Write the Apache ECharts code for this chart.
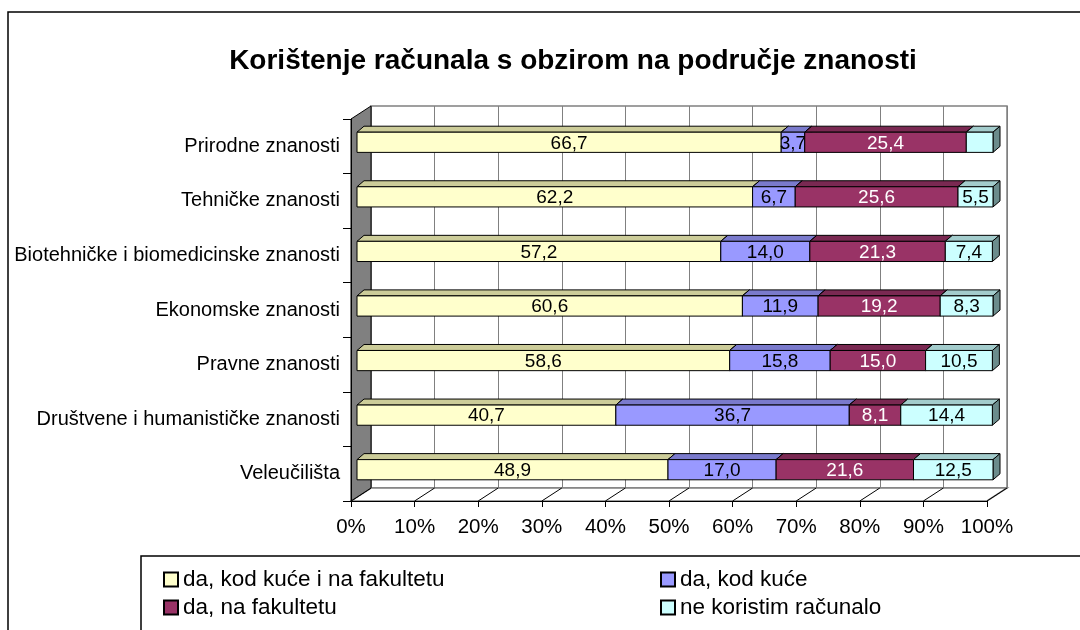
<!DOCTYPE html>
<html>
<head>
<meta charset="utf-8">
<script src="https://cdn.jsdelivr.net/npm/echarts@6/dist/echarts.min.js"></script>
<style>
  html, body { margin: 0; background: #fff; }
  #chart { width: 1080px; height: 630px; }
</style>
</head>
<body>
<div id="chart"></div>
<script>
const categories = [
  'Prirodne znanosti',
  'Tehničke znanosti',
  'Biotehničke i biomedicinske znanosti',
  'Ekonomske znanosti',
  'Pravne znanosti',
  'Društvene i humanističke znanosti',
  'Veleučilišta'
]
const seriesNames = ['da, kod kuće i na fakultetu', 'da, kod kuće', 'da, na fakultetu', 'ne koristim računalo']
const kucaIFakultet = [66.7, 62.2, 57.2, 60.6, 58.6, 40.7, 48.9]
const kuca = [3.7, 6.7, 14.0, 11.9, 15.8, 36.7, 17.0]
const fakultet = [25.4, 25.6, 21.3, 19.2, 15.0, 8.1, 21.6]
const neKoristi = [4.2, 5.5, 7.4, 8.3, 10.5, 14.4, 12.5]
const xTicks = [0, 10, 20, 30, 40, 50, 60, 70, 80, 90, 100]
// label not shown in the original: [series, category]
const hiddenLabels = [[3, 0]]

const values = [kucaIFakultet, kuca, fakultet, neKoristi]
const colors = ['#FFFFCC', '#9999FF', '#993366', '#CCFFFF']
const topColors = ['#CCCC99', '#7A7ACC', '#7A2952', '#A3CCCC']
const sideColors = ['#999973', '#5C5C99', '#5C1F3D', '#6B8C8C']
const labelColors = ['#000', '#000', '#fff', '#000']
const FONT = 'Liberation Sans, Arial, sans-serif'

const DEPTH = [7, -6] // bar depth
const FRONT = [-6, 4] // front plane, from bar front
const BACK = [14, -9] // back wall, from bar front

const fmt = (v) => v.toFixed(1).replace('.', ',')

// cumulative starts per category
const stacked = values.map((arr, si) =>
  arr.map((v, ci) => {
    let start = 0
    for (let k = 0; k < si; k++) start += values[k][ci]
    return [ci, start, start + v, v]
  })
)

function renderFrame(params, api) {
  const xs = xTicks.map((t) => api.coord([t, 0])[0])
  const band = api.size([0, 1])[1]
  const yT = api.coord([0, 0])[1] - band / 2
  const yB = api.coord([0, categories.length - 1])[1] + band / 2
  const xl = xs[0]
  const xr = xs[xs.length - 1]
  const children = []
  // floor
  children.push({
    type: 'polygon',
    shape: { points: [[xl + BACK[0], yB + BACK[1]], [xr + BACK[0], yB + BACK[1]], [xr + FRONT[0], yB + FRONT[1]], [xl + FRONT[0], yB + FRONT[1]]] },
    style: { fill: '#fff', stroke: '#808080', lineWidth: 1.5 }
  })
  xs.forEach((x) => {
    children.push({
      type: 'line',
      shape: { x1: x + BACK[0], y1: yB + BACK[1], x2: x + FRONT[0], y2: yB + FRONT[1] },
      style: { stroke: '#000', lineWidth: 1 }
    })
  })
  // left wall
  children.push({
    type: 'polygon',
    shape: { points: [[xl + FRONT[0], yT + FRONT[1]], [xl + BACK[0], yT + BACK[1]], [xl + BACK[0], yB + BACK[1]], [xl + FRONT[0], yB + FRONT[1]]] },
    style: { fill: '#808080', stroke: '#000', lineWidth: 1 }
  })
  return { type: 'group', children }
}

function makeBarRenderer(si) {
  return function (params, api) {
    const ci = api.value(0)
    const p0 = api.coord([api.value(1), ci])
    const p1 = api.coord([api.value(2), ci])
    const h = api.size([0, 1])[1] * 0.37
    const x0 = p0[0]
    const x1 = p1[0]
    const yt = p0[1] - h / 2
    const yb = p0[1] + h / 2
    const [dx, dy] = DEPTH
    const line = { stroke: '#000', lineWidth: 1, lineJoin: 'round' }
    const children = [
      {
        type: 'polygon',
        shape: { points: [[x0, yt], [x1, yt], [x1 + dx, yt + dy], [x0 + dx, yt + dy]] },
        style: Object.assign({ fill: topColors[si] }, line)
      },
      {
        type: 'polygon',
        shape: { points: [[x1, yt], [x1 + dx, yt + dy], [x1 + dx, yb + dy], [x1, yb]] },
        style: Object.assign({ fill: sideColors[si] }, line)
      },
      {
        type: 'rect',
        shape: { x: x0, y: yt, width: x1 - x0, height: h },
        style: Object.assign({ fill: colors[si] }, line)
      }
    ]
    const hidden = hiddenLabels.some((h) => h[0] === si && h[1] === ci)
    if (!hidden) {
      children.push({
        type: 'text',
        style: {
          text: fmt(api.value(3)),
          x: (x0 + x1) / 2,
          y: p0[1] + 1,
          align: 'center',
          verticalAlign: 'middle',
          fill: labelColors[si],
          font: '19px ' + FONT
        }
      })
    }
    return { type: 'group', children }
  }
}

const chart = echarts.init(document.getElementById('chart'))

const option = {
  animation: false,
  backgroundColor: '#fff',
  title: {
    text: 'Korištenje računala s obzirom na područje znanosti',
    left: 568,
    top: 42,
    textAlign: 'center',
    textStyle: { fontFamily: FONT, fontSize: 28, fontWeight: 'bold', color: '#000' }
  },
  legend: [
    {
      data: [seriesNames[0], seriesNames[2]],
      orient: 'vertical',
      left: 163,
      top: 568,
      padding: 0,
      itemGap: 5,
      itemWidth: 14,
      itemHeight: 14,
      icon: 'rect',
      textStyle: { fontFamily: FONT, fontSize: 22.5, color: '#000' }
    },
    {
      data: [seriesNames[1], seriesNames[3]],
      orient: 'vertical',
      left: 660,
      top: 568,
      padding: 0,
      itemGap: 5,
      itemWidth: 14,
      itemHeight: 14,
      icon: 'rect',
      textStyle: { fontFamily: FONT, fontSize: 22.5, color: '#000' }
    }
  ],
  graphic: [
    { type: 'rect', shape: { x: 8, y: 12, width: 1200, height: 700 }, style: { fill: 'none', stroke: '#000', lineWidth: 1.5 } },
    { type: 'rect', shape: { x: 141, y: 556, width: 1200, height: 200 }, style: { fill: 'none', stroke: '#000', lineWidth: 1.5 } }
  ],
  grid: [
    // bar fronts
    { left: 357, right: 87, top: 115, bottom: 133 },
    // front plane (axes)
    { left: 351, right: 93, top: 119, bottom: 129 },
    // back wall
    { left: 371, right: 73, top: 106, bottom: 142, show: true, backgroundColor: '#fff', borderColor: '#808080', borderWidth: 1.5 }
  ],
  xAxis: [
    { gridIndex: 0, type: 'value', min: 0, max: 100, interval: 10, show: false },
    {
      gridIndex: 1,
      type: 'value',
      min: 0,
      max: 100,
      interval: 10,
      z: 5,
      axisLine: { show: true, lineStyle: { color: '#000', width: 1 } },
      axisTick: { show: true, length: 6, lineStyle: { color: '#000' } },
      splitLine: { show: false },
      axisLabel: { margin: 16, formatter: '{value}%', fontFamily: FONT, fontSize: 20.5, color: '#000' }
    },
    {
      gridIndex: 2,
      type: 'value',
      min: 0,
      max: 100,
      interval: 10,
      axisLine: { show: false },
      axisTick: { show: false },
      axisLabel: { show: false },
      splitLine: { show: true, lineStyle: { color: '#808080', width: 1 } }
    }
  ],
  yAxis: [
    { gridIndex: 0, type: 'category', data: categories, inverse: true, show: false },
    {
      gridIndex: 1,
      type: 'category',
      data: categories,
      inverse: true,
      z: 5,
      axisLine: { show: true, lineStyle: { color: '#000', width: 1 } },
      axisTick: { show: true, length: 8, lineStyle: { color: '#000' } },
      axisLabel: { margin: 11, fontFamily: FONT, fontSize: 20, color: '#000' }
    },
    { gridIndex: 2, type: 'category', data: categories, inverse: true, show: false }
  ],
  series: [
    {
      type: 'custom',
      name: 'frame',
      xAxisIndex: 0,
      yAxisIndex: 0,
      clip: false,
      silent: true,
      data: [[0, 0, 0, 0]],
      encode: { x: 1, y: 0 },
      renderItem: renderFrame
    }
  ].concat(
    values.map((arr, si) => ({
      type: 'custom',
      name: seriesNames[si],
      xAxisIndex: 0,
      yAxisIndex: 0,
      clip: false,
      itemStyle: { color: colors[si], borderColor: '#000', borderWidth: 1 },
      encode: { x: [1, 2], y: 0 },
      data: stacked[si],
      renderItem: makeBarRenderer(si)
    }))
  )
}

chart.setOption(option)
</script>
</body>
</html>
